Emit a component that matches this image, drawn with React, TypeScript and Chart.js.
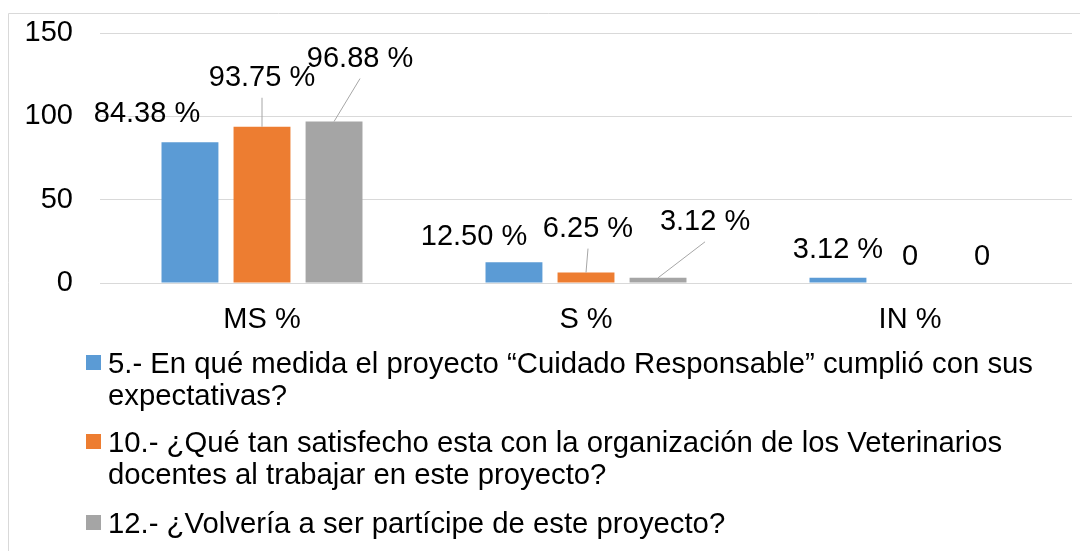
import React, { useEffect, useRef } from "react";
import { Chart, registerables } from "chart.js";

Chart.register(...registerables);

const categories = ["MS %", "S %", "IN %"];
const series1 = [84.38, 12.5, 3.12];
const series2 = [93.75, 6.25, 0];
const series3 = [96.88, 3.12, 0];
const seriesNames = [
  "5.- En qué medida el proyecto “Cuidado Responsable” cumplió con sus expectativas?",
  "10.- ¿Qué tan satisfecho esta con la organización de los Veterinarios docentes al trabajar en este proyecto?",
  "12.- ¿Volvería a ser partícipe de este proyecto?",
];
const legendLines = [
  ["5.- En qué medida el proyecto “Cuidado Responsable” cumplió con sus", "expectativas?"],
  ["10.- ¿Qué tan satisfecho esta con la organización de los Veterinarios", "docentes al trabajar en este proyecto?"],
  ["12.- ¿Volvería a ser partícipe de este proyecto?"],
];
const yTicks = [0, 50, 100, 150];

const colors = ["#5b9bd5", "#ed7d31", "#a5a5a5"];
// label offsets (dx, dy) from bar top-center, and whether a leader line is drawn
const labelOffsets = [
  [[-43, -28, 0], [-40, -25, 0], [0, -28, 0]],
  [[0, -49, 1], [2, -44, 1], [0, -26, 0]],
  [[26, -63, 1], [47, -56, 1], [0, -26, 0]],
];

const FONT = "'Liberation Sans', Arial, sans-serif";

const fmt = (v: number) => (v === 0 ? "0" : v.toFixed(2) + " %");

const framePlugin = {
  id: "frame",
  beforeDraw(chart: any) {
    const ctx = chart.ctx;
    ctx.save();
    ctx.strokeStyle = "#d9d9d9";
    ctx.lineWidth = 1;
    ctx.beginPath();
    ctx.moveTo(0.5, chart.height);
    ctx.lineTo(0.5, 5.5);
    ctx.lineTo(chart.width, 5.5);
    ctx.stroke();
    ctx.restore();
  },
};

const labelPlugin = {
  id: "dlabels",
  afterDatasetsDraw(chart: any) {
    const ctx = chart.ctx;
    ctx.save();
    ctx.font = `29px ${FONT}`;
    ctx.fillStyle = "#000";
    ctx.textAlign = "center";
    ctx.textBaseline = "middle";
    chart.data.datasets.forEach((ds: any, di: number) => {
      const meta = chart.getDatasetMeta(di);
      meta.data.forEach((bar: any, i: number) => {
        const [dx, dy, leader] = labelOffsets[di][i];
        const lx = bar.x + dx;
        const ly = bar.y + dy;
        if (leader) {
          ctx.strokeStyle = "#a6a6a6";
          ctx.lineWidth = 1;
          ctx.beginPath();
          ctx.moveTo(lx, ly + 20);
          ctx.lineTo(bar.x, bar.y);
          ctx.stroke();
        }
        ctx.fillText(fmt(ds.data[i]), lx, ly);
      });
    });
    ctx.restore();
  },
};

const legendPlugin = {
  id: "customLegend",
  afterDraw(chart: any) {
    const ctx = chart.ctx;
    ctx.save();
    ctx.font = `29.3px ${FONT}`;
    ctx.fillStyle = "#000";
    ctx.textAlign = "left";
    ctx.textBaseline = "alphabetic";
    const baselines = [365, 444, 525];
    const lineH = 32;
    legendLines.forEach((lines, si) => {
      const b = baselines[si];
      ctx.fillStyle = colors[si];
      ctx.fillRect(78, b - 18, 15, 15);
      ctx.fillStyle = "#000";
      lines.forEach((t, li) => ctx.fillText(t, 100, b + li * lineH));
    });
    ctx.restore();
  },
};

export default function App() {
  const ref = useRef<HTMLCanvasElement>(null);
  useEffect(() => {
    document.body.style.overflow = "hidden";
    const chart = new Chart(ref.current!, {
      type: "bar",
      data: {
        labels: categories,
        datasets: [series1, series2, series3].map((d, i) => ({
          label: seriesNames[i],
          data: d,
          backgroundColor: colors[i],
          borderWidth: 0,
          categoryPercentage: 0.667,
          barPercentage: 0.79,
        })),
      },
      options: {
        responsive: false,
        animation: false,
        devicePixelRatio: 1,
        layout: { padding: { left: 0, right: 16, top: 25, bottom: 208 } },
        plugins: { legend: { display: false }, tooltip: { enabled: false } },
        scales: {
          x: {
            grid: { display: false, drawTicks: false },
            border: { display: false },
            ticks: { color: "#000", font: { family: FONT, size: 29 }, padding: 20 },
            afterFit: (s: any) => { s.height = 60; s.paddingLeft = 0; s.paddingRight = 0; },
          },
          y: {
            min: 0,
            max: 150,
            afterBuildTicks: (s: any) => { s.ticks = yTicks.map((v) => ({ value: v })); },
            grid: { color: "#d9d9d9", lineWidth: 1, drawTicks: false },
            border: { display: false },
            ticks: { color: "#000", font: { family: FONT, size: 29 }, padding: 27 },
            afterFit: (s: any) => { s.width = 92; s.paddingTop = 0; s.paddingBottom = 0; },
          },
        },
      },
      plugins: [framePlugin, labelPlugin, legendPlugin],
    });
    return () => chart.destroy();
  }, []);
  return <canvas ref={ref} width={1080} height={543} style={{ display: "block" }} />;
}
